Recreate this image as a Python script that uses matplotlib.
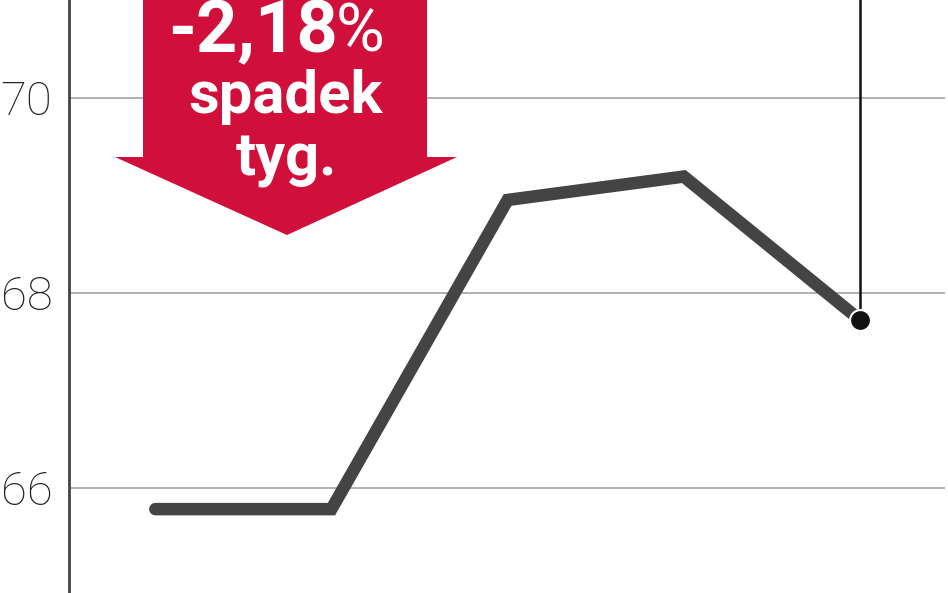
import matplotlib
matplotlib.use("Agg")
import matplotlib.pyplot as plt
from matplotlib.patches import Polygon

# data
weeks = [0, 1, 2, 3, 4]
values = [65.78, 65.78, 68.95, 69.19, 67.72]
yticks = [66, 68, 70]
ytick_labels = ["66", "68", "70"]
change_num = "-2,18"
change_pct = "%"
label_lines = ["spadek", "tyg."]

W, H = 948, 593
fig = plt.figure(figsize=(W / 100, H / 100), dpi=100)
ax = fig.add_axes([69 / W, 0, 1 - 69 / W, 1])
ax.set_xlim(-0.49, 4.5)
ax.set_ylim(64.92, 71.0)

for v in yticks:
    ax.axhline(v, xmax=0.995, color="#b0b0b0", lw=1.4, zorder=1)

ax.plot(weeks, values, color="#444444", lw=9, solid_capstyle="round",
        solid_joinstyle="miter", zorder=3)
# last point marker and vertical guide
ax.plot([weeks[-1], weeks[-1]], [values[-1], 71.0], color="#111111", lw=1.8, zorder=4)
ax.plot(weeks[-1], values[-1], "o", color="#111111", ms=15, mec="white", mew=1.5, zorder=5)

ax.set_yticks(yticks)
ax.set_yticklabels(ytick_labels)
ax.set_xticks([])
ax.tick_params(axis="y", length=0, pad=12, labelsize=34, labelcolor="#222222")
for lab in ax.get_yticklabels():
    lab.set_fontfamily(["Roboto", "DejaVu Sans"])
    lab.set_fontweight("light")
for s in ["top", "right", "bottom"]:
    ax.spines[s].set_visible(False)
ax.spines["left"].set_color("#444444")
ax.spines["left"].set_linewidth(2)

# red arrow (figure pixel coords, y from top)
def P(x, y):
    return (x / W, 1 - y / H)

red = "#d0103a"
arrow = Polygon([P(143, -5), P(427, -5), P(427, 157), P(457, 157), P(287, 235),
                 P(115, 157), P(143, 157)], closed=True, transform=fig.transFigure,
                facecolor=red, edgecolor="none", zorder=6)
fig.patches.append(arrow)

fam = ["Liberation Sans Narrow", "Roboto", "DejaVu Sans"]
fig.text(*P(338, 33), change_num, color="white", fontsize=52, fontweight="bold",
         family=fam, ha="right", va="center", zorder=7)
fig.text(*P(336, 33), change_pct, color="white", fontsize=48, fontweight="normal",
         family=fam, ha="left", va="center", zorder=7)
fig.text(*P(286, 97), label_lines[0], color="white", fontsize=43, fontweight="bold",
         family=fam, ha="center", va="center", zorder=7)
fig.text(*P(286, 160), label_lines[1], color="white", fontsize=43, fontweight="bold",
         family=fam, ha="center", va="center", zorder=7)

fig.savefig("out.png", dpi=100)
